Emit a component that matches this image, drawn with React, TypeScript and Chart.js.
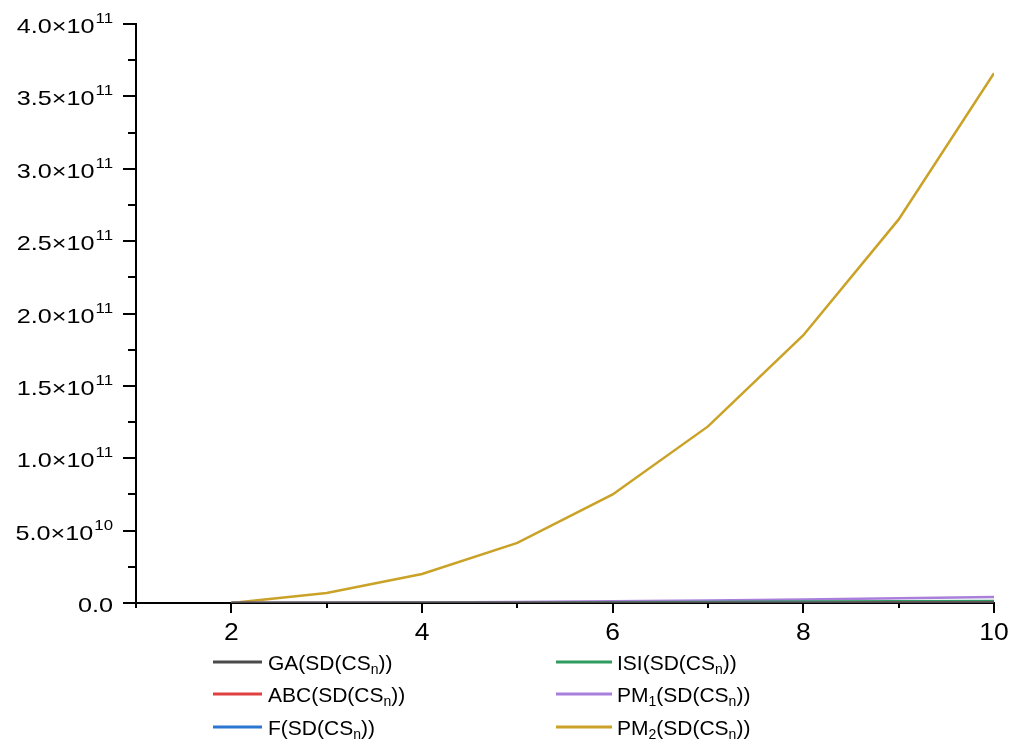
import React, { useEffect, useRef } from "react";
import { Chart, registerables } from "chart.js";

Chart.register(...registerables);

// ---- data ----
const nValues = [2, 3, 4, 5, 6, 7, 8, 9, 10];
const gaValues = [2.0e5, 1.1e6, 3.6e6, 9.0e6, 1.9e7, 3.5e7, 6.0e7, 9.6e7, 1.46e8];
const abcValues = [3.0e5, 1.6e6, 5.2e6, 1.3e7, 2.7e7, 5.0e7, 8.5e7, 1.35e8, 2.05e8];
const fValues = [4.0e5, 2.2e6, 7.0e6, 1.75e7, 3.7e7, 6.8e7, 1.15e8, 1.85e8, 2.8e8];
const isiValues = [5.0e6, 3.0e7, 1.0e8, 2.4e8, 4.6e8, 7.2e8, 9.5e8, 1.15e9, 1.3e9];
const pm1Values = [2.0e7, 1.2e8, 3.5e8, 7.0e8, 1.2e9, 1.8e9, 2.5e9, 3.3e9, 4.2e9];
const pm2Values = [0, 6.9e9, 2.0e10, 4.15e10, 7.5e10, 1.22e11, 1.85e11, 2.65e11, 3.66e11];

const seriesLabels = [
  "GA(SD(CS_n))",
  "ABC(SD(CS_n))",
  "F(SD(CS_n))",
  "ISI(SD(CS_n))",
  "PM_1(SD(CS_n))",
  "PM_2(SD(CS_n))",
];
const seriesValues = [gaValues, abcValues, fValues, isiValues, pm1Values, pm2Values];
const seriesColors = ["#4a4a4a", "#e0403f", "#2a76d2", "#2f9b5f", "#a97fdb", "#c9a227"];

const xMin = 1;
const xMax = 10;
const xMajorTicks = [2, 4, 6, 8, 10];
const xMinorTicks = [1, 3, 5, 7, 9];
const yMin = 0;
const yMax = 4.0e11;
const yMajorTicks = [0, 5e10, 1e11, 1.5e11, 2e11, 2.5e11, 3e11, 3.5e11, 4e11];
const yMinorTicks = [2.5e10, 7.5e10, 1.25e11, 1.75e11, 2.25e11, 2.75e11, 3.25e11, 3.75e11];
const yTickMantissa = ["0.0", "5.0×10", "1.0×10", "1.5×10", "2.0×10", "2.5×10", "3.0×10", "3.5×10", "4.0×10"];
const yTickExponent = ["", "10", "11", "11", "11", "11", "11", "11", "11"];

const FONT = "'Liberation Sans', Arial, sans-serif";

function parseLabel(label: string): { t: string; sub: boolean }[] {
  const parts: { t: string; sub: boolean }[] = [];
  let buf = "";
  for (let i = 0; i < label.length; i++) {
    const c = label[i];
    if (c === "_" && i + 1 < label.length) {
      if (buf) parts.push({ t: buf, sub: false });
      buf = "";
      parts.push({ t: label[i + 1], sub: true });
      i++;
    } else buf += c;
  }
  if (buf) parts.push({ t: buf, sub: false });
  return parts;
}

const decorPlugin = {
  id: "decor",
  afterDraw(chart: any) {
    const ctx: CanvasRenderingContext2D = chart.ctx;
    const xs = chart.scales.x;
    const ys = chart.scales.y;
    const area = chart.chartArea;
    ctx.save();
    ctx.strokeStyle = "#000";
    ctx.lineWidth = 2;
    ctx.lineCap = "butt";
    // y ticks
    yMajorTicks.forEach((v) => {
      const y = Math.round(ys.getPixelForValue(v));
      ctx.beginPath();
      ctx.moveTo(area.left - 13, y);
      ctx.lineTo(area.left, y);
      ctx.stroke();
    });
    yMinorTicks.forEach((v) => {
      const y = Math.round(ys.getPixelForValue(v));
      ctx.beginPath();
      ctx.moveTo(area.left - 8, y);
      ctx.lineTo(area.left, y);
      ctx.stroke();
    });
    // x ticks
    xMajorTicks.forEach((v) => {
      const x = Math.round(xs.getPixelForValue(v));
      ctx.beginPath();
      ctx.moveTo(x, area.bottom);
      ctx.lineTo(x, area.bottom + 10);
      ctx.stroke();
    });
    xMinorTicks.forEach((v) => {
      const x = Math.round(xs.getPixelForValue(v));
      ctx.beginPath();
      ctx.moveTo(x, area.bottom);
      ctx.lineTo(x, area.bottom + 5);
      ctx.stroke();
    });

    // y labels
    ctx.fillStyle = "#000";
    const sx = 1.2;
    const rightEdge = area.left - 23;
    yMajorTicks.forEach((v, i) => {
      const y = ys.getPixelForValue(v);
      ctx.font = `14px ${FONT}`;
      const expW = yTickExponent[i] ? ctx.measureText(yTickExponent[i]).width * sx : 0;
      ctx.font = `21px ${FONT}`;
      const manW = ctx.measureText(yTickMantissa[i]).width * sx;
      const startX = rightEdge - expW - manW - (expW ? 1 : 0);
      ctx.save();
      ctx.translate(startX, y + 9);
      ctx.scale(sx, 1);
      ctx.textAlign = "left";
      ctx.textBaseline = "alphabetic";
      ctx.fillText(yTickMantissa[i], 0, 0);
      ctx.restore();
      if (yTickExponent[i]) {
        ctx.save();
        ctx.font = `14px ${FONT}`;
        ctx.translate(startX + manW + 1, y - 1);
        ctx.scale(sx, 1);
        ctx.fillText(yTickExponent[i], 0, 0);
        ctx.restore();
      }
    });

    // x labels
    xMajorTicks.forEach((v) => {
      const x = xs.getPixelForValue(v);
      ctx.save();
      ctx.font = `23px ${FONT}`;
      ctx.translate(x, area.bottom + 37);
      ctx.scale(1.15, 1);
      ctx.textAlign = "center";
      ctx.textBaseline = "alphabetic";
      ctx.fillText(String(v), 0, 0);
      ctx.restore();
    });

    // legend
    const colX = [
      { l0: 213, l1: 262, t: 268 },
      { l0: 556, l1: 612, t: 617 },
    ];
    const rowY = [662, 694, 727];
    seriesLabels.forEach((label, i) => {
      const col = colX[Math.floor(i / 3)];
      const y = rowY[i % 3];
      ctx.strokeStyle = seriesColors[i];
      ctx.lineWidth = 3;
      ctx.beginPath();
      ctx.moveTo(col.l0, y);
      ctx.lineTo(col.l1, y);
      ctx.stroke();
      let x = col.t;
      ctx.fillStyle = "#000";
      ctx.textAlign = "left";
      ctx.textBaseline = "alphabetic";
      parseLabel(label).forEach((p) => {
        if (p.sub) {
          ctx.font = `14px ${FONT}`;
          ctx.fillText(p.t, x, y + 12);
        } else {
          ctx.font = `21px ${FONT}`;
          ctx.fillText(p.t, x, y + 7.5);
        }
        x += ctx.measureText(p.t).width;
      });
    });
    ctx.restore();
  },
};

export default function App() {
  const canvasRef = useRef<HTMLCanvasElement | null>(null);
  useEffect(() => {
    if (!canvasRef.current) return;
    const chart = new Chart(canvasRef.current, {
      type: "line",
      data: {
        datasets: seriesLabels.map((label, i) => ({
          label,
          data: nValues.map((n, j) => ({ x: n, y: seriesValues[i][j] })),
          borderColor: seriesColors[i],
          backgroundColor: seriesColors[i],
          borderWidth: 2.5,
          pointRadius: 0,
          tension: 0,
          fill: false,
        })),
      },
      options: {
        animation: false,
        responsive: false,
        maintainAspectRatio: false,
        layout: { padding: { top: 24, right: 15, left: 0, bottom: 0 } },
        plugins: { legend: { display: false }, tooltip: { enabled: false } },
        scales: {
          x: {
            type: "linear",
            min: xMin,
            max: xMax,
            grid: { display: false },
            border: { display: true, color: "#000", width: 2 },
            ticks: { display: false },
            afterFit: (s: any) => {
              s.height = 139;
            },
          },
          y: {
            type: "linear",
            min: yMin,
            max: yMax,
            grid: { display: false },
            border: { display: true, color: "#000", width: 2 },
            ticks: { display: false },
            afterFit: (s: any) => {
              s.width = 136;
            },
          },
        },
      },
      plugins: [decorPlugin],
    } as any);
    return () => chart.destroy();
  }, []);
  return (
    <div style={{ position: "fixed", left: 0, top: 0, width: 1009, height: 742, background: "#fff" }}>
      <canvas ref={canvasRef} width={1009} height={742} style={{ width: 1009, height: 742 }} />
    </div>
  );
}
